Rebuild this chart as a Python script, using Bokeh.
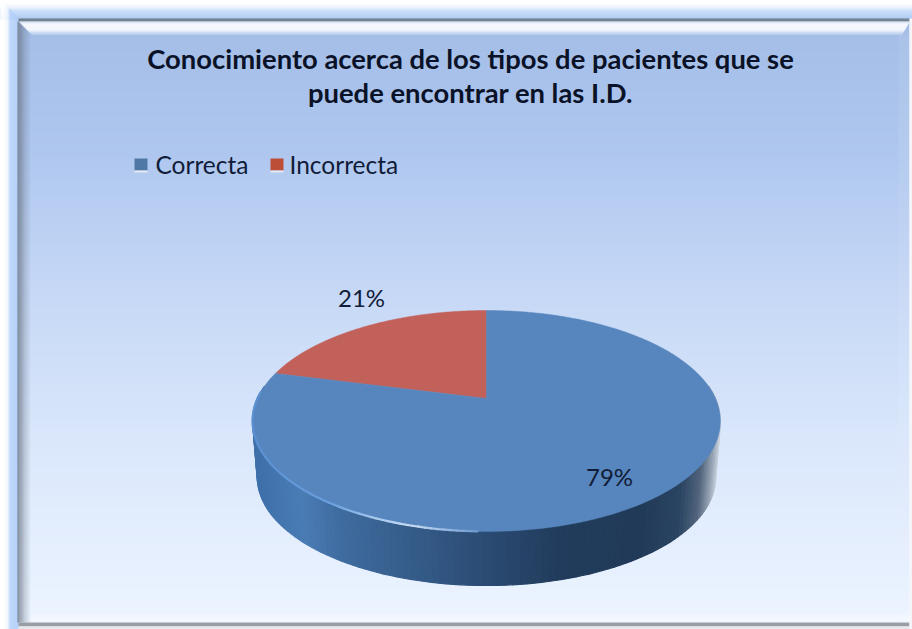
import numpy as np
from bokeh.plotting import figure
from bokeh.models import Range1d
from bokeh.core.properties import value
from bokeh.embed import file_html
from bokeh.resources import INLINE

categories = ["Correcta", "Incorrecta"]
values = [79, 21]
title_lines = ["Conocimiento acerca de los tipos de pacientes que se",
               "puede encontrar en las I.D."]
TEXT = "#101c38"
FONT = "Lato"

W, H = 912, 629
R, BOT = 909, 622   # panel right and bottom edges

p = figure(width=W, height=H, output_backend="svg", toolbar_location=None,
           x_range=Range1d(0, W), y_range=Range1d(H, 0),
           x_axis_type=None, y_axis_type=None, min_border=0,
           outline_line_color=None, background_fill_color="#ffffff",
           border_fill_color="#ffffff")
p.xgrid.visible = False
p.ygrid.visible = False


def hexrgb(h):
    return np.array([int(h[i:i + 2], 16) for i in (1, 3, 5)], float)


def ramp(pos, stops, colors):
    rgb = np.array([hexrgb(c) for c in colors])
    return "#%02x%02x%02x" % tuple(int(round(np.interp(pos, stops, rgb[:, i]))) for i in range(3))


# outer glow
for y in range(0, 19):
    p.quad(left=0, right=W, top=y, bottom=y + 1.3, line_color=None,
           fill_color=ramp(y, [2, 6, 10, 17], ["#ffffff", "#eef4fd", "#c4daf9", "#a7c6f4"]))
for x in range(0, 18):
    p.quad(left=x, right=x + 1.3, top=max(x, 4), bottom=H, line_color=None,
           fill_color=ramp(x, [3, 7, 9, 16], ["#ffffff", "#eef4fd", "#b9d4fa", "#aecdf7"]))

# panel background
for y in range(18, BOT, 3):
    p.quad(left=18, right=R, top=y, bottom=min(y + 3.4, BOT), line_color=None,
           fill_color=ramp(y, [30, 150, 300, 430, 620],
                           ["#a4bee8", "#afc7ef", "#c7d9f6", "#d9e6fb", "#ecf4ff"]))

# frame bevel
p.quad(left=18, right=R, top=18, bottom=21, line_color=None, fill_color="#75828f")
for y in range(21, 34):
    p.quad(left=18 + (y - 20), right=R - (y - 21) * 0.6, top=y, bottom=y + 1.2, line_color=None,
           fill_color=ramp(y, [21, 23, 29, 33], ["#dbe6f4", "#ffffff", "#ffffff", "#c0d3f0"]))
for x in range(17, 31):
    a = float(np.interp(x, [17, 19, 24, 30], [0.95, 0.75, 0.3, 0.0]))
    p.quad(left=x, right=x + 1, top=21 + (x - 17), bottom=BOT, line_color=None,
           fill_color="#6c7686", fill_alpha=a)
for y in range(610, BOT):
    a = float(np.interp(y, [610, 617, 619, 622], [0.0, 0.45, 0.5, 0.2]))
    p.quad(left=30, right=R, top=y, bottom=y + 1, line_color=None,
           fill_color="#ffffff", fill_alpha=a)
p.quad(left=18, right=R, top=BOT, bottom=626, line_color=None, fill_color="#999da5")
p.quad(left=18, right=W, top=626, bottom=H, line_color=None, fill_color="#e6e8ec")
p.quad(left=R, right=W, top=18, bottom=H, line_color=None, fill_color="#f3f5f8")
for x in range(898, R):
    p.quad(left=x, right=x + 1, top=34, bottom=BOT, line_color=None,
           fill_color="#ffffff", fill_alpha=0.08)

# pie geometry: a circle seen in perspective
CX, CY, A, B, K = 486.0, 398.0, 229.0, 105.9, 0.2036


def project(theta, scale=1.0, cy=CY):
    """theta is clockwise from twelve o'clock."""
    u, v = np.sin(theta), np.cos(theta)
    w = 1 + K * v
    return CX + scale * A * u / w, cy - scale * B * v / w


# side wall of the disc
SIDE_SCALE, SIDE_CY = 0.98, 454.7
ths = np.linspace(np.pi / 2 - 0.12, 3 * np.pi / 2 + 0.12, 130)
sx = [256, 300, 340, 420, 486, 560, 640, 680, 700, 712, 720]
sc = ["#3f70aa", "#4a7cb5", "#3f6b9e", "#345a87", "#2b4b72", "#213c5c", "#213a58",
      "#2a4462", "#52657d", "#97a4b4", "#d0d8e4"]
for t0, t1 in zip(ths[:-1], ths[1:]):
    x0, y0 = project(t0)
    x1, y1 = project(t1)
    x2, y2 = project(t1, SIDE_SCALE, SIDE_CY)
    x3, y3 = project(t0, SIDE_SCALE, SIDE_CY)
    col = ramp((x0 + x1) / 2, sx, sc)
    p.patch([x0, x1, x2, x3], [y0, y1, y2, y3], line_color=col, line_width=1.2, fill_color=col)

# top face: one wedge per value
order = [("Incorrecta", "#c2605a"), ("Correcta", "#5785bd")]
cum = 0.0
for name, col in order:
    frac = values[categories.index(name)] / sum(values)
    a0 = -cum * 2 * np.pi
    a1 = -(cum + frac) * 2 * np.pi
    th = np.linspace(a0, a1, 240)
    xs, ys = project(th)
    p.patch([CX, *xs], [CY, *ys], fill_color=col, line_color=col, line_width=0.5)
    cum += frac

# lit rim along the lower left
rim = np.linspace(np.pi * 1.01, np.pi * 1.52, 70)
for t0, t1 in zip(rim[:-1], rim[1:]):
    x0, y0 = project(t0)
    x1, y1 = project(t1)
    xm = (x0 + x1) / 2
    p.line([x0, x1], [y0, y1], line_width=2.2, line_cap="round",
           line_color=ramp(xm, [252, 330, 375, 410, 450, 486, 500],
                           ["#5a8fd0", "#6aa0de", "#a8c8ee", "#c8dcf2", "#8fb4e0", "#5f8fc8", "#4a7aa8"]))

# legend
lx = [134, 270]
lcol = ["#4f78a6", "#bc4e38"]
ltx = [155, 289]
for x, c in zip(lx, lcol):
    p.quad(left=x, right=x + 13, top=158, bottom=170, line_color=None, fill_color=c)
    p.quad(left=x, right=x + 13, top=170, bottom=172, line_color=None, fill_color="#e3e8f2")
p.text(x=ltx, y=[164, 164], text=categories, text_font=value(FONT), text_font_size="24.5px",
       text_color=TEXT, text_align="left", text_baseline="middle")

# title
p.text(x=[470, 470], y=[58, 92], text=title_lines, text_font=value(FONT), text_font_size="27.4px",
       text_font_style="bold", text_color="#0a1228", text_align="center", text_baseline="middle")

# data labels
p.text(x=[609, 361], y=[476, 297], text=[f"{v}%" for v in values], text_font=value(FONT),
       text_font_size="24px", text_color=TEXT, text_align="center", text_baseline="middle")

open("out.html", "w").write(file_html(p, INLINE))
